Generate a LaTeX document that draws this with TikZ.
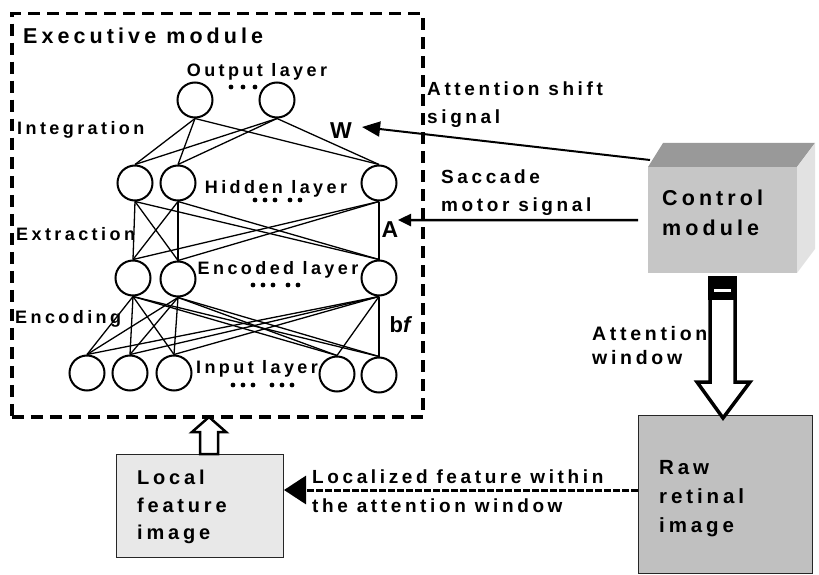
\documentclass[tikz,border=0pt]{standalone}
\usepackage{fontspec}
\newfontfamily\lab{Liberation Sans Bold}[LetterSpace=19]
\newfontfamily\labit{Liberation Sans Bold Italic}[LetterSpace=19]
\usetikzlibrary{arrows.meta,calc}
\definecolor{frontgray}{RGB}{198,198,198}
\definecolor{topgray}{RGB}{153,153,153}
\definecolor{sidegray}{RGB}{226,226,226}
\definecolor{rawgray}{RGB}{192,192,192}
\definecolor{localgray}{RGB}{232,232,232}
\begin{document}
\begin{tikzpicture}[x=1pt,y=-1pt,
  lbl/.style n args={2}{inner sep=0pt, text=black, font={\lab\fontsize{#1}{#2}\selectfont}},
  neuron/.style={circle, draw, line width=2pt, minimum size=35pt, inner sep=0pt},
  wire/.style={line width=1.3pt},
  box/.style={draw=black!85, line width=1pt, inner sep=0pt, anchor=north west},
  hollow/.style={draw, fill=white, line join=miter}
]
\useasboundingbox (0,0) rectangle (819,575);

% executive module frame
\node[draw, line width=3.5pt, dash pattern=on 12pt off 7pt, inner sep=0pt,
      minimum width=411pt, minimum height=403pt, anchor=north west] (exec) at (10,12) {};
\node[lbl={21.5}{26}, anchor=west] (title) at (23,36) {Executive module};

% neurons
\node[neuron] (o1) at (195,100) {};
\node[neuron] (o2) at (277,100) {};
\node[neuron] (h1) at (135,183) {};
\node[neuron] (h2) at (178,183) {};
\node[neuron] (h3) at (379,183) {};
\node[neuron] (e1) at (133,278) {};
\node[neuron] (e2) at (178,279) {};
\node[neuron] (e3) at (379,278) {};
\node[neuron] (i1) at (87,373) {};
\node[neuron] (i2) at (130,373) {};
\node[neuron] (i3) at (174,373) {};
\node[neuron] (i4) at (337,374) {};
\node[neuron] (i5) at (379,375) {};

\foreach \a in {o1,o2} \foreach \b in {h1,h2,h3} \draw[wire] (\a.south) -- (\b.north);
\foreach \a in {h1,h2,h3} \foreach \b in {e1,e2,e3} \draw[wire] (\a.south) -- (\b.north);
\foreach \a in {e1,e2,e3} \foreach \b in {i1,i2,i3,i4,i5} \draw[wire] (\a.south) -- (\b.north);

% layer labels
\node[lbl={18}{24}, anchor=base] (outl) at (257,77) {Output layer};
\node[lbl={18}{24}, anchor=base] (hidl) at (276,193) {Hidden layer};
\node[lbl={18}{24}, anchor=base] (encl) at (278,274) {Encoded layer};
\node[lbl={18}{24}, anchor=base] (inl) at (257,373) {Input layer};

% dots
\foreach \x in {231,243,255} \fill (\x,87) circle (2.4);
\foreach \x in {255,265,275,290,300} \fill (\x,200) circle (2.4);
\foreach \x in {253,263,273,288,298} \fill (\x,285) circle (2.4);
\foreach \x in {233,243,253,272,282,292} \fill (\x,385) circle (2.4);

% side labels
\node[lbl={18}{24}, anchor=base west] (integ) at (17,135) {Integration};
\node[lbl={18}{24}, anchor=base west] (extr) at (16,240) {Extraction};
\node[lbl={18}{24}, anchor=base west] (enco) at (15,323) {Encoding};
\node[lbl={23}{26}] (W) at (341,131) {W};
\node[lbl={23}{26}] (A) at (390,230) {A};
\node[lbl={22}{26}] (bf) at (400,325) {b{\labit f}};

% control module (3D box)
\fill[topgray] (648,167) -- (663,143) -- (815,143) -- (797,167) -- cycle;
\fill[sidegray] (797,167) -- (815,143) -- (815,249) -- (797,273) -- cycle;
\node[fill=frontgray, inner sep=0pt, minimum width=149pt, minimum height=106pt, anchor=north west] (ctrl) at (648,167) {};
\node[lbl={21.5}{30}, align=left, anchor=west] (ctrltxt) at (662,213) {Control\\module};

% attention shift signal
\coordinate (wtip) at ($(W.east)+(10,-4)$);
\draw[line width=2pt, -{Triangle[length=18pt,width=15pt]}] ($(ctrl.north west)+(2,-7)$) -- (wtip);
\node[lbl={19}{28}, align=left, anchor=west] (shiftl) at (427,105) {Attention shift\\signal};

% saccade motor signal
\coordinate (atip) at (398,220);
\draw[line width=2.5pt, -{Triangle[length=13pt,width=12pt]}] ($(ctrl.west)+(-10,0)$) -- (atip);
\node[lbl={19}{28}, align=left, anchor=west] (sacl) at (441,193) {Saccade\\motor signal};

% raw retinal image
\node[box, fill=rawgray, minimum width=174pt, minimum height=158pt] (raw) at (638,415) {};
\node[lbl={20.5}{29}, align=left, anchor=west] (rawtxt) at (659,499) {Raw\\retinal\\image};

% attention window hollow arrow
\draw[hollow, line width=3.5pt] (710,278) -- (710,382) -- (697,382) -- (723,418) -- (750,382) -- (735,382) -- (735,278) -- cycle;
\fill (708,276) rectangle (737,300);
\fill[white] (714,289) rectangle (731,292);
\node[lbl={19.5}{24}, align=left, anchor=west] (winl) at (592,346) {Attention\\window};

% local feature image
\node[box, fill=localgray, minimum width=167pt, minimum height=103pt] (local) at (116,454) {};
\node[lbl={20}{27.5}, align=left, anchor=west] (localtxt) at (137,507) {Local\\feature\\image};

% up arrow into executive module
\draw[hollow, line width=2.5pt] (200,454) -- (200,432) -- (192,432) -- (209,417) -- (226,432) -- (218,432) -- (218,454) -- cycle;

% localized feature dashed arrow
\coordinate (lf) at (local.east |- 0,490);
\draw[line width=3pt, dash pattern=on 7pt off 2pt, -{Triangle[length=22pt,width=28pt]}] (raw.west |- lf) -- (lf);
\node[lbl={19}{29}, align=left, anchor=west] (loctxt) at (312,491) {Localized feature within\\the attention window};
\end{tikzpicture}
\end{document}
